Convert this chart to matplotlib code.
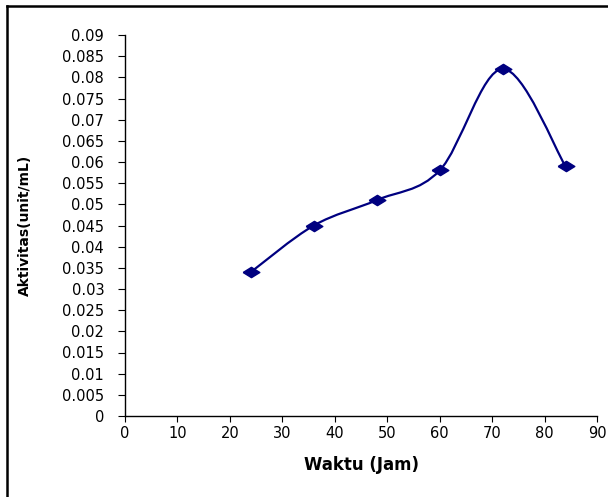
import numpy as np
import matplotlib
matplotlib.use('Agg')
import matplotlib.pyplot as plt
from matplotlib.path import Path
from matplotlib.patches import PathPatch

# data
waktu = [24, 36, 48, 60, 72, 84]
aktivitas = [0.034, 0.045, 0.051, 0.058, 0.082, 0.059]
x_ticks = list(range(0, 91, 10))
y_ticks = [round(0.005 * i, 3) for i in range(19)]
y_ticklabels = [('%g' % v) for v in y_ticks]

plt.rcParams['font.family'] = 'DejaVu Sans'

fig = plt.figure(figsize=(6.08, 4.97), dpi=100)
ax = fig.add_axes([125 / 608, 1 - 416 / 497, 472 / 608, 381 / 497])

# excel style smoothed line (cubic bezier, catmull-rom tangents)
pts = np.column_stack([waktu, aktivitas])
verts = [tuple(pts[0])]
codes = [Path.MOVETO]
n = len(pts)
for i in range(n - 1):
    p0 = pts[i - 1] if i > 0 else pts[i]
    p1 = pts[i]
    p2 = pts[i + 1]
    p3 = pts[i + 2] if i + 2 < n else pts[i + 1]
    c1 = p1 + (p2 - p0) / 6.0
    c2 = p2 - (p3 - p1) / 6.0
    verts += [tuple(c1), tuple(c2), tuple(p2)]
    codes += [Path.CURVE4] * 3
ax.add_patch(PathPatch(Path(verts, codes), facecolor='none',
                       edgecolor='#000080', lw=1.6, zorder=2))

diamond = [(-1, 0), (0, 0.62), (1, 0), (0, -0.62), (-1, 0)]
ax.plot(waktu, aktivitas, linestyle='none', marker=diamond,
        markersize=12, color='#000080', zorder=3)

ax.set_xlim(0, 90)
ax.set_ylim(0, 0.09)
ax.set_xticks(x_ticks)
ax.set_yticks(y_ticks)
ax.set_yticklabels(y_ticklabels)
ax.spines['top'].set_visible(False)
ax.spines['right'].set_visible(False)
for s in ['left', 'bottom']:
    ax.spines[s].set_linewidth(1.0)
ax.tick_params(axis='y', direction='out', length=5, width=0.8,
               labelsize=10.5, pad=10)
ax.tick_params(axis='x', direction='out', length=4, width=0.8,
               labelsize=10.5, pad=3)

ax.set_xlabel('Waktu (Jam)', fontsize=12, fontweight='bold', labelpad=11)
ax.set_ylabel('Aktivitas(unit/mL)', fontsize=10, fontweight='bold')
ax.yaxis.set_label_coords((32 - 125) / 472, 0.5)

# outer frame (top and left edge only visible)
fig.add_artist(plt.Line2D([7 / 608, 7 / 608], [0, 1 - 6 / 497],
                          color='black', lw=1.8, transform=fig.transFigure))
fig.add_artist(plt.Line2D([7 / 608, 1], [1 - 6 / 497, 1 - 6 / 497],
                          color='black', lw=1.8, transform=fig.transFigure))

plt.savefig('out.png', dpi=100)
